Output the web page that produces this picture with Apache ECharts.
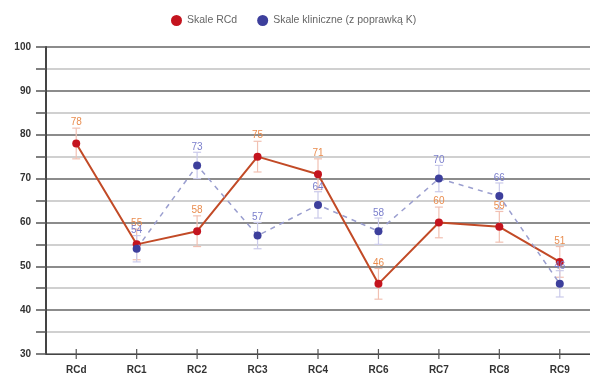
<!DOCTYPE html>
<html>
<head>
<meta charset="utf-8">
<script src="https://cdn.jsdelivr.net/npm/echarts@6/dist/echarts.min.js"></script>
<style>
  html, body { margin: 0; padding: 0; background: #fff; }
  #chart { width: 590px; height: 380px; }
</style>
</head>
<body>
<div id="chart"></div>
<script>
// Scale names along the x axis
const categories = ['RCd', 'RC1', 'RC2', 'RC3', 'RC4', 'RC6', 'RC7', 'RC8', 'RC9'];
// T-scores for the RC scales
const rcValues = [78, 55, 58, 75, 71, 46, 60, 59, 51];
// T-scores for the clinical scales (K-corrected); no clinical counterpart for RCd
const clinicalValues = [null, 54, 73, 57, 64, 58, 70, 66, 46];
// Half-width of the confidence band around each score
const rcError = [3.5, 3.5, 3.5, 3.5, 3.5, 3.5, 3.5, 3.5, 3.5];
const clinicalError = [null, 3, 3, 3, 3, 3, 3, 3, 3];
// Y axis range and tick labels
const yMin = 30, yMax = 100, yStep = 5;
const yTickLabels = [30, 40, 50, 60, 70, 80, 90, 100];

const legendNames = ['Skale RCd', 'Skale kliniczne (z poprawką K)'];

function errorBars(values, errors, color) {
  const data = values.map((v, i) => v == null ? null : [i, v - errors[i], v + errors[i]]).filter(d => d);
  return {
    type: 'custom',
    silent: true,
    z: 1,
    renderItem: function (params, api) {
      const x = api.value(0);
      const lo = api.coord([x, api.value(1)]);
      const hi = api.coord([x, api.value(2)]);
      const w = 4;
      const style = { stroke: color, lineWidth: 1.2 };
      return {
        type: 'group',
        children: [
          { type: 'line', shape: { x1: lo[0], y1: lo[1], x2: hi[0], y2: hi[1] }, style },
          { type: 'line', shape: { x1: lo[0] - w, y1: lo[1], x2: lo[0] + w, y2: lo[1] }, style },
          { type: 'line', shape: { x1: hi[0] - w, y1: hi[1], x2: hi[0] + w, y2: hi[1] }, style }
        ]
      };
    },
    encode: { x: 0, y: [1, 2] },
    data: data
  };
}

const chart = echarts.init(document.getElementById('chart'), null, { renderer: 'canvas' });
chart.setOption({
  animation: false,
  backgroundColor: '#ffffff',
  legend: {
    top: 10,
    left: 166,
    itemWidth: 11,
    itemHeight: 11,
    itemGap: 20,
    icon: 'circle',
    textStyle: { fontSize: 10.5, color: '#666', fontFamily: 'Liberation Sans, Arial' },
    data: legendNames
  },
  grid: { left: 46, top: 47, width: 549, bottom: 26 },
  xAxis: {
    type: 'category',
    data: categories,
    boundaryGap: true,
    axisLine: { lineStyle: { color: '#444', width: 1 } },
    axisTick: { show: false },
    axisLabel: { color: '#333', fontSize: 10, fontWeight: 'bold', margin: 11, fontFamily: 'Liberation Sans, Arial' },
    splitLine: { show: false }
  },
  yAxis: {
    type: 'value',
    min: yMin,
    max: yMax,
    interval: yStep,
    axisLine: { show: true, lineStyle: { color: '#444', width: 2 } },
    axisTick: { show: true, length: 10, lineStyle: { color: '#555', width: 1.5 } },
    axisLabel: {
      color: '#333', fontSize: 10, fontWeight: 'bold', margin: 15,
      fontFamily: 'Liberation Sans, Arial',
      formatter: v => yTickLabels.includes(v) ? String(v) : ''
    },
    splitLine: { show: true, lineStyle: { color: ['#8c8c8c', '#d0d0d0'], width: 2 } }
  },
  series: [
    errorBars(rcValues, rcError, '#f1c0b2'),
    errorBars(clinicalValues, clinicalError, '#cacaea'),
    {
      name: legendNames[0],
      type: 'line',
      data: rcValues,
      symbol: 'circle',
      symbolSize: 8,
      z: 3,
      itemStyle: { color: '#c4141e' },
      lineStyle: { color: '#c24a26', width: 2 },
      label: {
        show: true, position: 'top', distance: 12,
        color: '#e98c4e', fontSize: 10, fontFamily: 'Liberation Sans, Arial'
      }
    },
    {
      name: legendNames[1],
      type: 'line',
      data: clinicalValues,
      connectNulls: false,
      symbol: 'circle',
      symbolSize: 8,
      z: 4,
      itemStyle: { color: '#3d3f9c' },
      lineStyle: { color: '#9a9ecf', width: 1.5, type: [5, 5] },
      label: {
        show: true, position: 'top', distance: 9,
        color: '#7b7fcc', fontSize: 10, fontFamily: 'Liberation Sans, Arial'
      }
    },
    // category ticks crossing the x axis line
    {
      type: 'custom',
      silent: true,
      z: 5,
      renderItem: function (params, api) {
        const p = api.coord([api.value(0), yMin]);
        return { type: 'line', shape: { x1: p[0], y1: p[1] - 5, x2: p[0], y2: p[1] + 5 }, style: { stroke: '#555', lineWidth: 1.2 } };
      },
      data: categories.map((c, i) => [i, yMin])
    }
  ]
});
</script>
</body>
</html>
